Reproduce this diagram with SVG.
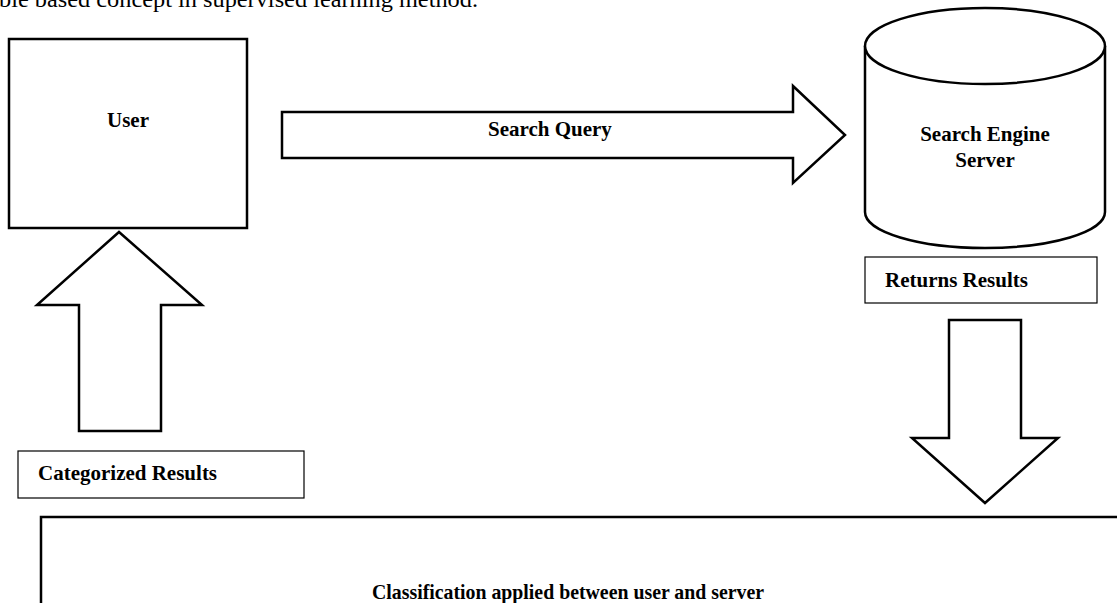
<svg xmlns="http://www.w3.org/2000/svg" width="1117" height="603" viewBox="0 0 1117 603">
  <style>
    .shape { fill: #fff; stroke: #000; stroke-width: 2.5; stroke-linejoin: miter; }
    .thin { fill: #fff; stroke: #000; stroke-width: 1.2; }
    .lbl { font-family: "Liberation Serif", "Times New Roman", serif; font-weight: bold; font-size: 21px; fill: #000; }
    .body { font-family: "Liberation Serif", "Times New Roman", serif; font-size: 24px; fill: #000; }
  </style>
  <rect x="0" y="0" width="1117" height="603" fill="#fff"/>

  <!-- running text cut at the top edge -->
  <text class="body" x="-1" y="7" textLength="479" lengthAdjust="spacingAndGlyphs">ble based concept in supervised learning method.</text>

  <g id="user">
    <rect class="shape" x="9" y="39" width="238" height="189"/>
    <text class="lbl" x="128" y="127" text-anchor="middle">User</text>
  </g>

  <g id="search-engine-server">
    <path class="shape" d="M865,46 L865,212 A120,36 0 0 0 1105,212 L1105,46"/>
    <ellipse class="shape" cx="985" cy="46" rx="120" ry="38"/>
    <text class="lbl" x="985" y="141" text-anchor="middle">Search Engine</text>
    <text class="lbl" x="985" y="167" text-anchor="middle">Server</text>
  </g>

  <g id="returns-results">
    <rect class="thin" x="865" y="257" width="232" height="46"/>
    <text class="lbl" x="885" y="287">Returns Results</text>
  </g>

  <g id="categorized-results">
    <rect class="thin" x="18" y="451" width="286" height="47"/>
    <text class="lbl" x="38" y="480">Categorized Results</text>
  </g>

  <g id="classification">
    <path class="shape" stroke-width="3" d="M1120,517 L41,517 L41,606"/>
    <text class="lbl" x="372" y="599" font-size="23" textLength="392" lengthAdjust="spacingAndGlyphs">Classification applied between user and server</text>
  </g>

  <g id="connectors">
    <!-- Search Query: user to server -->
    <path class="shape" d="M282,112 L793,112 L793,86 L845,135 L793,183 L793,158 L282,158 Z"/>
    <text class="lbl" x="488" y="136">Search Query</text>
    <!-- categorized results back up to user -->
    <path class="shape" d="M119,232 L202,305 L161,305 L161,431 L79,431 L79,305 L37,305 Z"/>
    <!-- results down into classification -->
    <path class="shape" d="M949,320 L1021,320 L1021,438 L1058,438 L985,503 L912,438 L949,438 Z"/>
  </g>
</svg>
